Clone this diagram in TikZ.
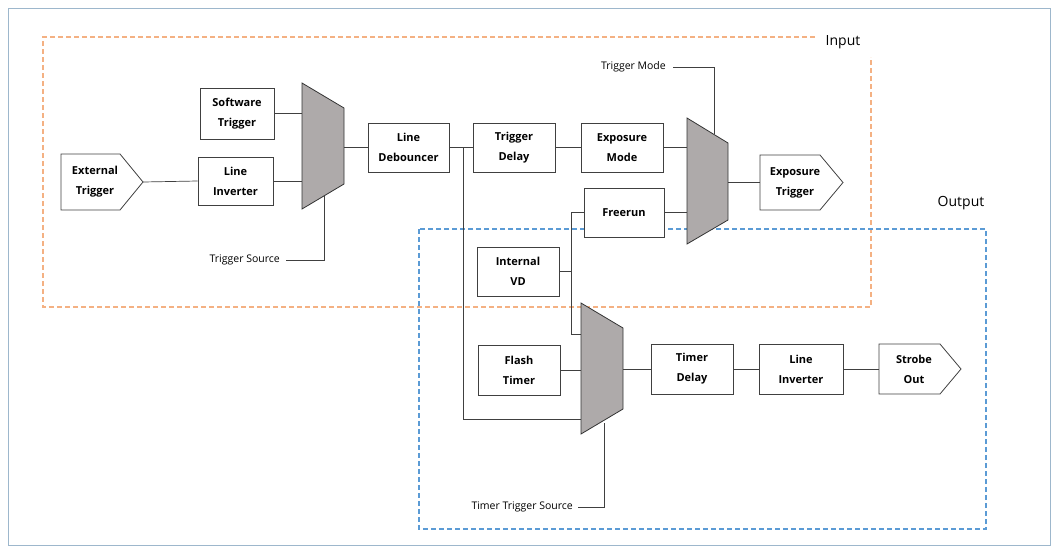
\documentclass[tikz,border=0pt]{standalone}
\usepackage{fontspec}
\setmainfont{Open Sans}
\definecolor{muxg}{HTML}{AEAAAA}
\definecolor{frameb}{HTML}{9DB7CC}
\definecolor{orng}{HTML}{F4B183}
\definecolor{blu}{HTML}{5B9BD5}
\begin{document}
\begin{tikzpicture}[x=1pt,y=-1pt,
  blk/.style={draw=black!75,line width=0.8pt,fill=white,align=center,font=\bfseries\fontsize{11}{20}\selectfont,inner sep=0pt},
  mux/.style={draw=black!80,line width=0.8pt,fill=muxg},
  wire/.style={draw=black!75,line width=0.7pt},
  lbl/.style={font=\fontsize{10.5}{12}\selectfont,inner sep=1pt}]
\useasboundingbox (0,0) rectangle (1058,555);
\draw[draw=frameb,line width=0.8pt] (8,8) rectangle (1050,545);
% frames
\draw[draw=orng,line width=1.4pt,dash pattern=on 5pt off 3pt] (815,37) -- (43,37) -- (43,307) -- (871,307) -- (871,57);
\node[font=\fontsize{14}{16}\selectfont] (inp) at (843,42) {Input};
\draw[draw=blu,line width=1.4pt,dash pattern=on 5pt off 3pt] (419,229) rectangle (986,529);
\node[font=\fontsize{14}{16}\selectfont] (outp) at (961,203) {Output};
% muxes
\draw[mux] (302,83) -- (344,108) -- (344,184) -- (302,209) -- cycle;
\draw[mux] (687,118) -- (728,143) -- (728,220) -- (687,244) -- cycle;
\draw[mux] (581,303) -- (623,328) -- (623,409) -- (581,434) -- cycle;
% boxes
\node[blk,minimum width=74pt,minimum height=51pt] (sw) at (237,113.5) {Software\\Trigger};
\node[blk,minimum width=75pt,minimum height=48pt] (li) at (235.5,181) {Line\\Inverter};
\draw[draw=black!75,line width=0.8pt,fill=white] (61,154) -- (120,154) -- (143,182) -- (120,210) -- (61,210) -- cycle;
\node[blk,draw=none,fill=none] (ext) at (95,182) {External\\Trigger};
\coordinate (extp) at (143,182);
\node[blk,minimum width=81pt,minimum height=49pt] (deb) at (408.5,147.5) {Line\\Debouncer};
\node[blk,minimum width=82pt,minimum height=49pt] (td) at (514,147.5) {Trigger\\Delay};
\node[blk,minimum width=82pt,minimum height=49pt] (em) at (622,147.5) {Exposure\\Mode};
\node[blk,minimum width=80pt,minimum height=49pt] (fr) at (624,212.5) {Freerun};
\node[blk,minimum width=82pt,minimum height=49pt] (vd) at (518,271.5) {Internal\\VD};
\node[blk,minimum width=82pt,minimum height=50pt] (ft) at (519,370) {Flash\\Timer};
\node[blk,minimum width=82pt,minimum height=50pt] (tmd) at (692,369) {Timer\\Delay};
\node[blk,minimum width=84pt,minimum height=50pt] (li2) at (801,369) {Line\\Inverter};
\draw[draw=black!75,line width=0.8pt,fill=white] (879,344) -- (940,344) -- (961,369) -- (940,394) -- (879,394) -- cycle;
\node[blk,draw=none,fill=none] (so) at (914,369) {Strobe\\Out};
\draw[draw=black!75,line width=0.8pt,fill=white] (760,155) -- (820,155) -- (843,182.5) -- (820,210) -- (760,210) -- cycle;
\node[blk,draw=none,fill=none] (et) at (795,182.5) {Exposure\\Trigger};
% wires
\draw[wire] (extp) -- (li.west);
\draw[wire] (sw.east) -- (302,113.5);
\draw[wire] (li.east) -- (302,181);
\draw[wire] (344,147.5) -- (deb.west);
\draw[wire] (deb.east) -- (td.west);
\draw[wire] (463,147.5) -- (463,419) -- (581,419);
\draw[wire] (td.east) -- (em.west);
\draw[wire] (em.east) -- (687,147.5);
\draw[wire] (fr.east) -- (687,212.5);
\draw[wire] (fr.west) -- (571,212.5) -- (571,334) -- (581,334);
\draw[wire] (vd.east) -- (571,271.5);
\draw[wire] (ft.east) -- (581,370);
\draw[wire] (623,369) -- (tmd.west);
\draw[wire] (tmd.east) -- (li2.west);
\draw[wire] (li2.east) -- (879,369);
\draw[wire] (728,182.5) -- (760,182.5);
% labels
\node[lbl,anchor=east] (tm) at (667,67) {Trigger Mode};
\draw[wire] (673,67) -- (714,67) -- (714,134);
\node[lbl,anchor=east] (ts) at (281,260) {Trigger Source};
\draw[wire] (286,260) -- (324,260) -- (324,196);
\node[lbl,anchor=east] (tts) at (574,507) {Timer Trigger Source};
\draw[wire] (578,507) -- (604,507) -- (604,423);
\end{tikzpicture}
\end{document}
